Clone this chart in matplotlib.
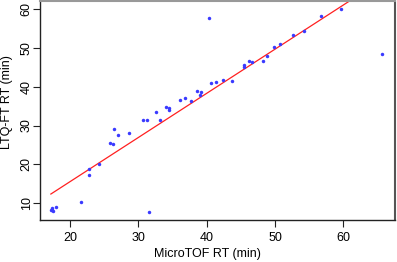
import matplotlib
matplotlib.use("Agg")
import matplotlib.pyplot as plt
import numpy as np

plt.rcParams['font.family'] = ['Liberation Sans', 'DejaVu Sans']

microtof_rt = [17.2, 17.4, 17.5, 17.3, 17.9, 21.6, 22.8, 22.8, 24.2, 25.9,
               26.3, 26.5, 27.0, 28.7, 30.7, 31.3, 31.5, 32.6, 33.2, 34.05,
               34.5, 34.5, 36.1, 36.9, 37.7, 38.6, 39.0, 39.2, 40.4, 40.7,
               41.4, 42.4, 43.7, 45.4, 45.5, 46.2, 46.7, 48.2, 48.9, 49.9,
               50.7, 52.7, 54.3, 56.7, 59.7, 65.6]
ltqft_rt = [8.4, 8.7, 8.0, 8.2, 9.0, 10.3, 18.7, 17.4, 20.1, 25.6,
            25.3, 29.2, 27.6, 28.2, 31.4, 31.4, 7.7, 33.4, 31.4, 34.8,
            34.6, 34.1, 36.6, 37.2, 36.4, 39.0, 37.9, 38.7, 57.6, 41.0,
            41.2, 41.8, 41.5, 45.0, 45.5, 46.7, 46.3, 46.5, 47.9, 50.2,
            51.0, 53.2, 54.2, 58.1, 59.9, 48.3]
fit_intercept = -7.13
fit_slope = 1.135

x_ticks = [20, 30, 40, 50, 60]
y_ticks = [10, 20, 30, 40, 50, 60]

fig = plt.figure(figsize=(3.97, 2.62), dpi=100)
ax = fig.add_axes([40/397, 42/262, 355/397, 219.5/262])

x = np.array(microtof_rt)
y = np.array(ltqft_rt)
ax.plot(x, y, 'o', ms=2.5, color='#3a3aff', mec='none', zorder=3)
xl = np.array([x.min(), x.max()])
ax.plot(xl, fit_intercept + fit_slope * xl, color='#ff2020', lw=0.9, zorder=2)

ax.set_xlim(15.61, 67.56)
ax.set_ylim(5.72, 62.13)
ax.set_xticks(x_ticks)
ax.set_yticks(y_ticks)
ax.tick_params(axis='both', direction='out', length=5, width=0.8, labelsize=9, color='#222222')
ax.tick_params(axis='y', pad=0.3)
ax.tick_params(axis='x', pad=3.5)
for lab in ax.get_yticklabels():
    lab.set_rotation(90)
    lab.set_va('center')
ax.set_xlabel('MicroTOF RT (min)', fontsize=9)
ax.xaxis.set_label_coords(0.473, -0.155)
ax.xaxis.label.set_va('center')
ax.set_ylabel('LTQ-FT RT (min)', fontsize=9)
ax.yaxis.set_label_coords(-0.093, 0.536)
ax.yaxis.label.set_va('center')
for s in ['left', 'bottom']:
    ax.spines[s].set_color('#222222')
    ax.spines[s].set_linewidth(1.0)
ax.spines['top'].set_color('#999999')
ax.spines['top'].set_linewidth(1.5)
ax.spines['right'].set_color('#555555')
ax.spines['right'].set_linewidth(1.5)

fig.savefig('out.png', dpi=100)
